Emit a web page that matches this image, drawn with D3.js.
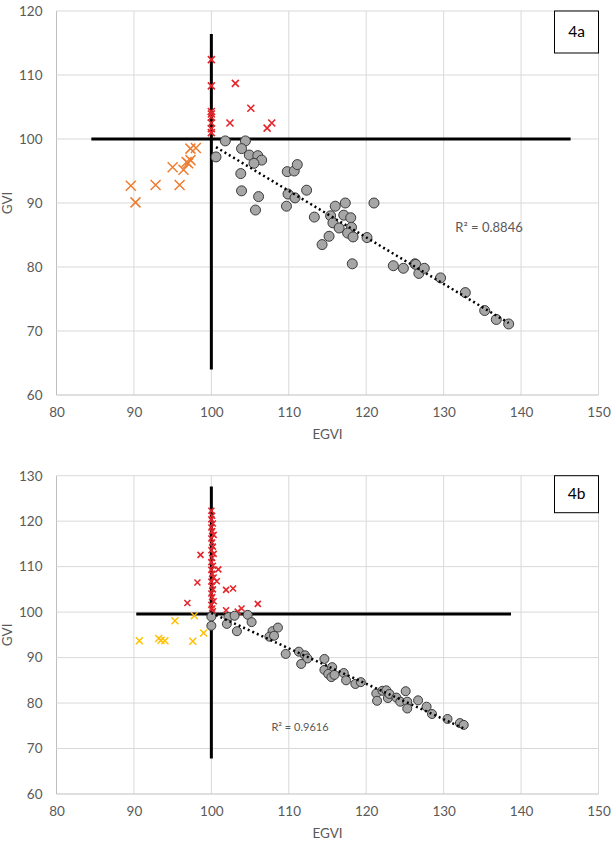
<!DOCTYPE html>
<html><head><meta charset="utf-8">
<script src="https://cdn.jsdelivr.net/npm/d3@7/dist/d3.min.js"></script>
<style>body{margin:0;background:#fff}svg{display:block}</style>
</head><body>
<script>
// ---------- DATA ----------
const xTicks = [80, 90, 100, 110, 120, 130, 140, 150];
const yTicksA = [60, 70, 80, 90, 100, 110, 120];
const yTicksB = [60, 70, 80, 90, 100, 110, 120, 130];

// Chart 4a
const grayA = [[100.6,97.2],[101.8,99.7],[104.4,99.7],[103.9,98.5],[104.9,97.5],[106.0,97.4],[106.5,96.7],[105.5,96.2],[103.8,94.6],[103.9,91.9],[106.1,91.0],[105.7,88.9],[109.8,94.9],[110.7,95.0],[111.1,96.0],[109.9,91.4],[110.8,90.8],[109.7,89.5],[112.3,92.0],[113.3,87.8],[116.0,89.5],[117.3,90.0],[121.0,90.0],[115.4,88.0],[115.7,86.9],[117.1,88.1],[118.0,87.7],[116.5,86.1],[118.1,86.2],[117.6,85.3],[118.3,84.7],[115.2,84.8],[114.3,83.5],[120.1,84.6],[118.2,80.5],[123.5,80.2],[124.8,79.8],[126.3,80.5],[126.4,80.4],[126.8,79.0],[127.5,79.8],[129.6,78.3],[132.8,76.0],[135.3,73.2],[136.8,71.8],[138.4,71.1]];
const redA = [[100,112.4],[100,108.3],[100,104.3],[100,103.9],[100,103.4],[100,102.5],[100,101.6],[100,101.0],[103.1,108.7],[102.4,102.5],[105.1,104.8],[107.2,101.7],[107.8,102.5]];
const orangeA = [[89.6,92.7],[90.2,90.1],[92.8,92.8],[95.9,92.8],[95.0,95.6],[96.4,95.2],[96.8,96.4],[97.3,96.7],[97.0,96.2],[97.3,98.5],[98.0,98.6]];
const refA = {hY: 100, hX0: 84.5, hX1: 146.4, vX: 100, vY0: 64, vY1: 116.4};
const r2A = "R² = 0.8846";

// Chart 4b
const grayB = [[100.0,99.0],[100.0,97.0],[102.2,98.9],[102.0,97.4],[103.0,99.2],[103.3,95.8],[104.7,99.4],[105.2,97.8],[107.9,95.8],[108.6,96.6],[107.5,94.6],[108.1,94.8],[109.6,90.8],[111.3,91.3],[112.1,90.5],[112.4,89.8],[111.6,88.6],[114.6,89.7],[114.6,87.3],[115.6,87.9],[115.1,86.4],[115.5,85.7],[115.9,86.2],[117.1,86.6],[117.4,85.0],[118.6,84.2],[119.3,84.6],[121.3,82.1],[121.4,80.5],[122.1,82.7],[122.6,82.8],[122.8,81.1],[123.0,82.0],[123.9,81.2],[124.4,80.3],[125.1,82.6],[125.3,80.3],[125.3,78.8],[126.7,80.6],[127.8,79.2],[128.5,77.6],[130.5,76.5],[132.1,75.6],[132.6,75.2]];
const redB = [[100.0,122.3],[100.1,121.2],[100.0,120.4],[100.2,119.5],[100.0,118.6],[100.1,117.8],[100.3,117.0],[100.0,116.2],[100.1,115.3],[100.2,114.4],[100.0,113.6],[100.3,112.8],[100.1,111.9],[100.0,111.0],[100.2,110.2],[100.0,109.3],[100.1,108.4],[100.3,107.6],[100.0,106.7],[100.1,105.8],[100.2,105.0],[100.0,104.1],[100.1,103.3],[100.3,102.4],[100.0,101.6],[100.1,100.8],[100.2,100.2],[98.6,112.6],[100.9,109.4],[98.2,106.5],[100.7,106.8],[101.9,104.9],[102.8,105.2],[96.9,102.0],[106.0,101.8],[101.9,100.4],[103.9,100.8],[103.4,100.1]];
const yellowB = [[90.7,93.7],[93.2,94.2],[93.5,93.8],[94.0,93.7],[95.3,98.1],[97.6,93.6],[97.8,99.2],[99.0,95.4]];
const refB = {hY: 99.6, hX0: 90.3, hX1: 138.7, vX: 100, vY0: 67.8, vY1: 127.6};
const r2B = "R² = 0.9616";

// ---------- DRAW ----------
const W = 615, H = 844;
const svg = d3.select("body").append("svg").attr("width", W).attr("height", H);
const FONT = "Lato, 'Open Sans', sans-serif";

function fit(pts) {
  const mx = d3.mean(pts, d => d[0]), my = d3.mean(pts, d => d[1]);
  let sxy = 0, sxx = 0;
  pts.forEach(d => { sxy += (d[0]-mx)*(d[1]-my); sxx += (d[0]-mx)**2; });
  const b = sxy / sxx, a = my - b*mx;
  return x => a + b*x;
}

function chart(cfg) {
  const g = svg.append("g");
  const x = d3.scaleLinear().domain([80, 150]).range([56.5, 598.5]);
  const y = d3.scaleLinear().domain(cfg.yDomain).range([cfg.bottom, cfg.top]);

  // gridlines
  g.append("g").selectAll("line").data(xTicks).join("line")
    .attr("x1", d => x(d)).attr("x2", d => x(d)).attr("y1", cfg.top).attr("y2", cfg.bottom)
    .attr("stroke", d => d === 80 ? "#bfbfbf" : "#d9d9d9").attr("stroke-width", 1);
  g.append("g").selectAll("line").data(cfg.yTicks).join("line")
    .attr("y1", d => y(d)).attr("y2", d => y(d)).attr("x1", x(80)).attr("x2", x(150))
    .attr("stroke", d => d === cfg.yDomain[0] ? "#bfbfbf" : "#d9d9d9").attr("stroke-width", 1);

  // axes (labels only)
  const xa = g.append("g").attr("transform", `translate(0,${cfg.bottom})`)
    .call(d3.axisBottom(x).tickValues(xTicks).tickSize(0).tickPadding(12));
  const ya = g.append("g").attr("transform", `translate(${x(80)},0)`)
    .call(d3.axisLeft(y).tickValues(cfg.yTicks).tickSize(0).tickPadding(14));
  [xa, ya].forEach(a => {
    a.select(".domain").remove();
    a.selectAll("text").attr("fill", "#595959").attr("font-size", 13.5).attr("font-family", FONT);
  });

  g.append("text").attr("x", (x(80)+x(150))/2).attr("y", cfg.bottom + 44)
    .attr("text-anchor", "middle").attr("fill", "#595959").attr("font-size", 13.5).attr("font-family", FONT)
    .text("EGVI");
  g.append("text").attr("transform", `translate(12,${(cfg.top+cfg.bottom)/2}) rotate(-90)`)
    .attr("text-anchor", "middle").attr("fill", "#595959").attr("font-size", 13.5).attr("font-family", FONT)
    .text("GVI");

  // reference lines
  g.append("line").attr("x1", x(cfg.ref.hX0)).attr("x2", x(cfg.ref.hX1))
    .attr("y1", y(cfg.ref.hY)).attr("y2", y(cfg.ref.hY)).attr("stroke", "#000").attr("stroke-width", 3);
  g.append("line").attr("x1", x(cfg.ref.vX)).attr("x2", x(cfg.ref.vX))
    .attr("y1", y(cfg.ref.vY0)).attr("y2", y(cfg.ref.vY1)).attr("stroke", "#000").attr("stroke-width", 3);

  // crosses
  function crosses(data, color, s, sw) {
    g.append("g").selectAll("path").data(data).join("path")
      .attr("d", d => {
        const cx = x(d[0]), cy = y(d[1]);
        return `M${cx-s},${cy-s}L${cx+s},${cy+s}M${cx-s},${cy+s}L${cx+s},${cy-s}`;
      })
      .attr("stroke", color).attr("stroke-width", sw).attr("fill", "none");
  }
  crosses(cfg.xs1, cfg.c1, cfg.s1, 1.5);
  crosses(cfg.xs2, cfg.c2, cfg.s2, 1.6);

  // circles
  g.append("g").selectAll("circle").data(cfg.gray).join("circle")
    .attr("cx", d => x(d[0])).attr("cy", d => y(d[1])).attr("r", cfg.r)
    .attr("fill", "#a6a6a6").attr("stroke", "#3a3a3a").attr("stroke-width", 1);

  // trend line
  const f = fit(cfg.gray);
  const ex = d3.extent(cfg.gray, d => d[0]);
  g.append("line").attr("x1", x(ex[0])).attr("x2", x(ex[1]))
    .attr("y1", y(f(ex[0]))).attr("y2", y(f(ex[1])))
    .attr("stroke", "#000").attr("stroke-width", 2.5).attr("stroke-dasharray", "2,3");

  g.append("text").attr("x", cfg.r2x).attr("y", cfg.r2y).attr("text-anchor", "middle")
    .attr("fill", "#595959").attr("font-size", cfg.r2size).attr("font-family", FONT).text(cfg.r2);

  // label box
  g.append("rect").attr("x", 554.5).attr("y", cfg.top).attr("width", 44).attr("height", cfg.boxH)
    .attr("fill", "#fff").attr("stroke", "#000").attr("stroke-width", 1);
  g.append("text").attr("x", 576.5).attr("y", cfg.top + cfg.boxH/2 + 5).attr("text-anchor", "middle")
    .attr("fill", "#000").attr("font-size", 15.5).attr("font-family", FONT).text(cfg.label);
}

chart({yDomain: [60, 120], yTicks: yTicksA, top: 11, bottom: 395, gray: grayA,
  xs1: orangeA, c1: "#ed7d31", s1: 5, xs2: redA, c2: "#e3262b", s2: 3.5, r: 5,
  ref: refA, r2: r2A, r2x: 489, r2y: 232, r2size: 13, label: "4a", boxH: 42});
chart({yDomain: [60, 130], yTicks: yTicksB, top: 475.7, bottom: 794, gray: grayB,
  xs1: yellowB, c1: "#ffc000", s1: 3.5, xs2: redB, c2: "#e3262b", s2: 3, r: 4.5,
  ref: refB, r2: r2B, r2x: 300, r2y: 731, r2size: 11, label: "4b", boxH: 37});
</script>
</body></html>
